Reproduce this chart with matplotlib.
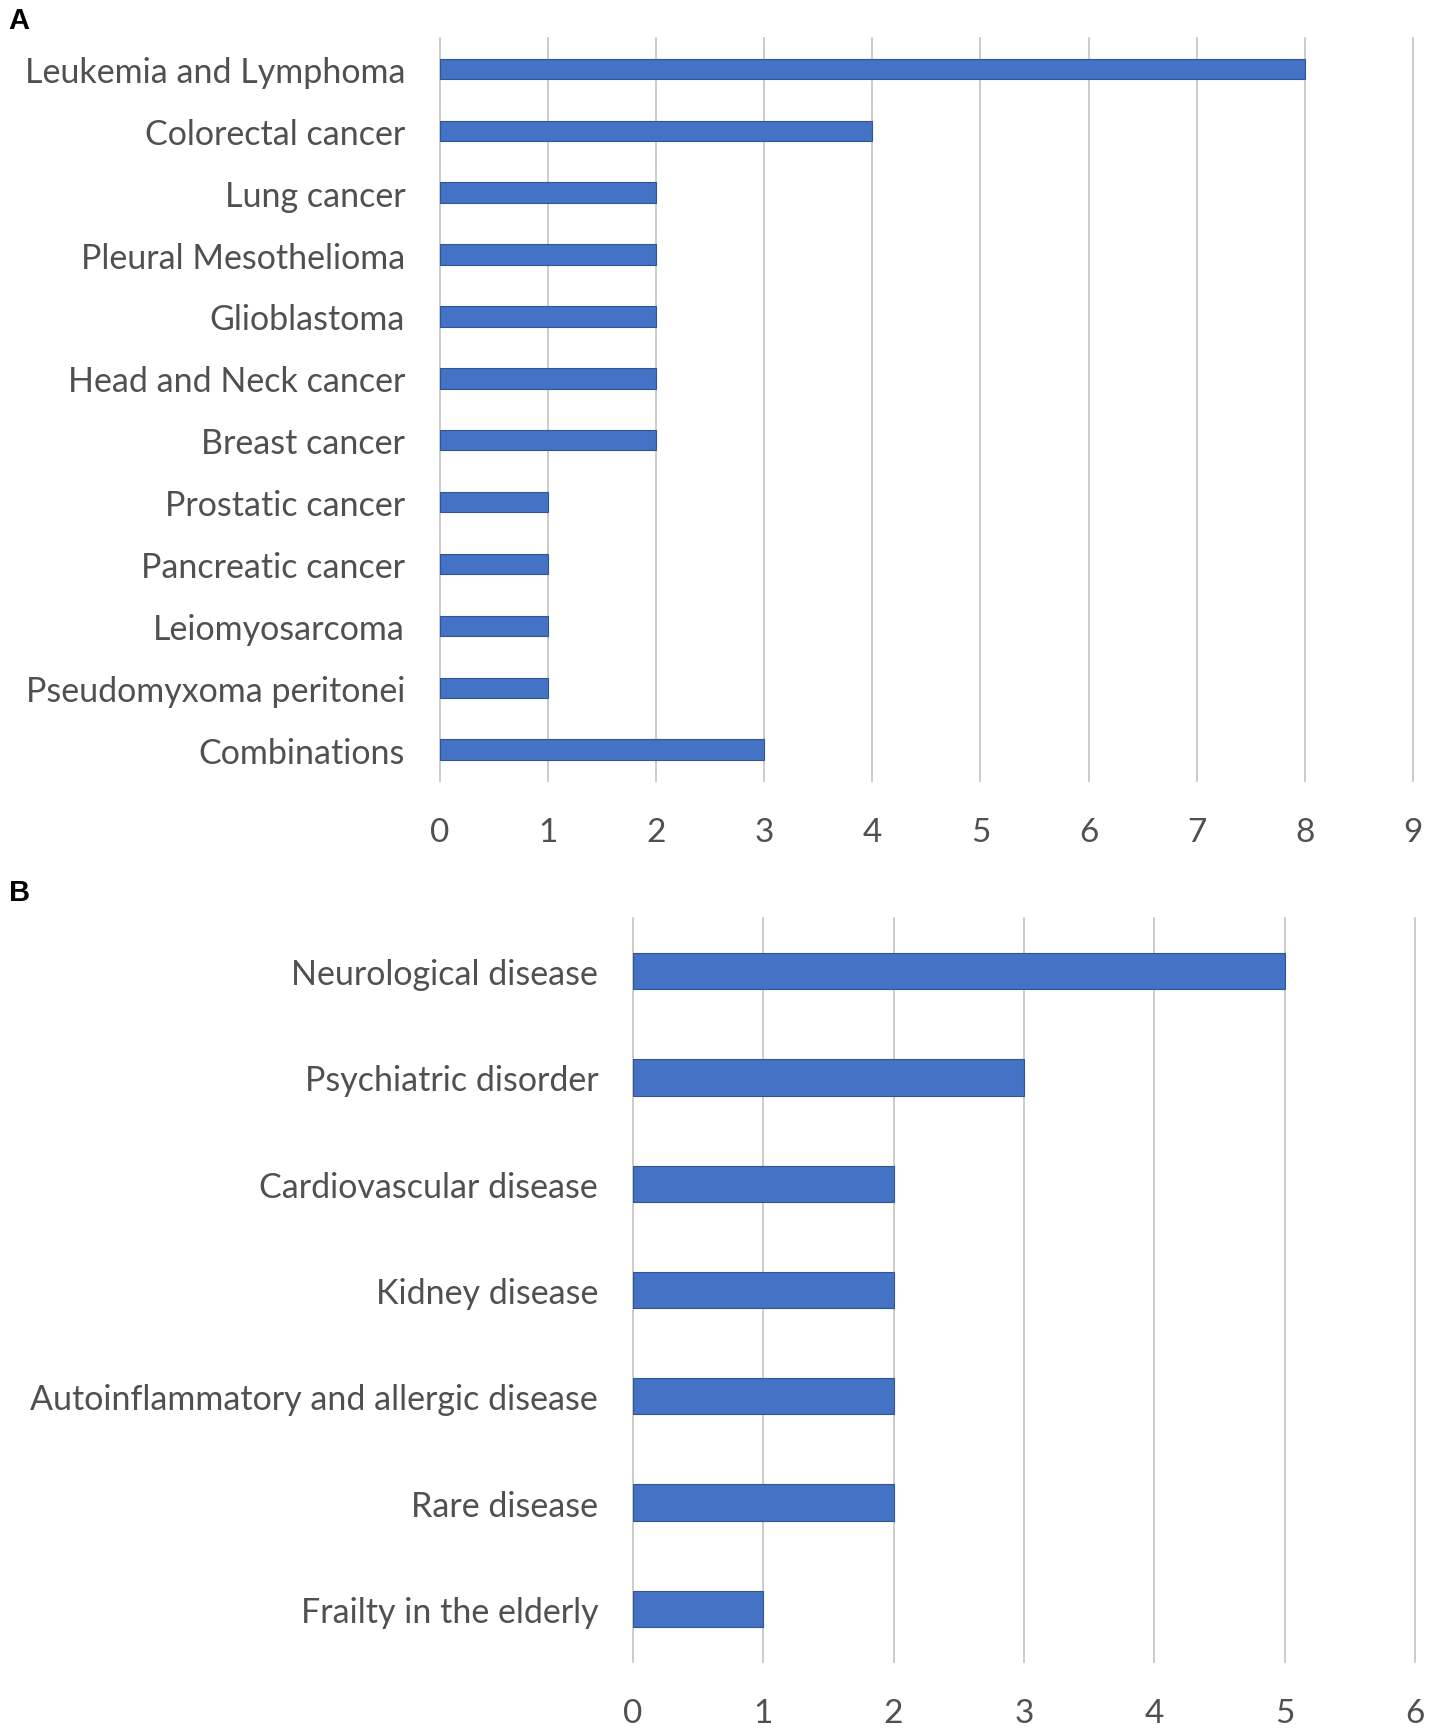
import matplotlib
matplotlib.use("Agg")
import matplotlib.pyplot as plt

cats_a = ["Leukemia and Lymphoma", "Colorectal cancer", "Lung cancer", "Pleural Mesothelioma",
          "Glioblastoma", "Head and Neck cancer", "Breast cancer", "Prostatic cancer",
          "Pancreatic cancer", "Leiomyosarcoma", "Pseudomyxoma peritonei", "Combinations"]
vals_a = [8, 4, 2, 2, 2, 2, 2, 1, 1, 1, 1, 3]
ticks_a = [0, 1, 2, 3, 4, 5, 6, 7, 8, 9]

cats_b = ["Neurological disease", "Psychiatric disorder", "Cardiovascular disease", "Kidney disease",
          "Autoinflammatory and allergic disease", "Rare disease", "Frailty in the elderly"]
vals_b = [5, 3, 2, 2, 2, 2, 1]
ticks_b = [0, 1, 2, 3, 4, 5, 6]

BAR = "#4472C4"
EDGE = "#2F5597"
GRID = "#C8C8C8"
TXT = "#505050"
FONT = ["Lato", "DejaVu Sans"]

fig = plt.figure(figsize=(14.33, 17.33), dpi=100)

def panel(rect, cats, vals, ticks, height):
    ax = fig.add_axes(rect)
    n = len(cats)
    y = list(range(n))
    ax.barh(y, vals, height=height, color=BAR, edgecolor=EDGE, linewidth=0.8, zorder=3)
    ax.set_ylim(n - 0.5, -0.5)
    ax.set_xlim(ticks[0], ticks[-1])
    ax.set_xticks(ticks)
    ax.set_yticks(y)
    ax.set_yticklabels(cats, fontsize=24.5, color=TXT, family=FONT)
    ax.set_xticklabels([str(t) for t in ticks], fontsize=24, color=TXT, family=FONT)
    ax.tick_params(axis="y", length=0, pad=25)
    ax.tick_params(axis="x", length=0, pad=26)
    for t in ticks:
        ax.axvline(t, color=GRID, linewidth=1.3, zorder=1, clip_on=False)
    for s in ax.spines.values():
        s.set_visible(False)
    return ax

panel([0.307, 0.549, 0.679, 0.4285], cats_a, vals_a, ticks_a, 0.33)
panel([0.4417, 0.0404, 0.5457, 0.4293], cats_b, vals_b, ticks_b, 0.34)

fig.text(0.006, 0.996, "A", fontsize=21, fontweight="bold", family="Liberation Sans", va="top", ha="left")
fig.text(0.006, 0.4925, "B", fontsize=21, fontweight="bold", family="Liberation Sans", va="top", ha="left")

fig.savefig("out.png", dpi=100, facecolor="white")
